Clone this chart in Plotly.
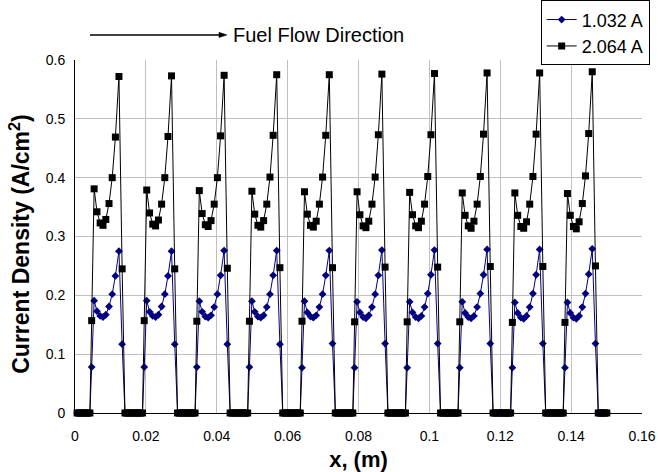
import plotly.graph_objects as go

# Cell (channel) start positions along x, m
cell_start = [0.0, 0.01484, 0.02968, 0.04452, 0.05936, 0.07420, 0.08904, 0.10388, 0.11872, 0.13356]
# Positions inside one cell, m
local_zero_before = [0.0006, 0.0012, 0.0018, 0.0024, 0.0030, 0.0036, 0.0042]
local_active = [0.0047, 0.0054, 0.0062, 0.0071, 0.0079, 0.0087, 0.0096, 0.0105, 0.0114, 0.0124, 0.0133]
local_zero_after = [0.0141, 0.0147]
local_zero_after_last = [0.0141, 0.0147, 0.0153, 0.0159, 0.0165]

# Current density in each cell, A/cm2 (2.064 A)
black = [
    [0.157, 0.381, 0.342, 0.323, 0.319, 0.329, 0.356, 0.400, 0.469, 0.572, 0.245],
    [0.157, 0.379, 0.340, 0.321, 0.318, 0.328, 0.355, 0.400, 0.470, 0.573, 0.245],
    [0.156, 0.378, 0.339, 0.320, 0.317, 0.327, 0.355, 0.400, 0.471, 0.574, 0.246],
    [0.156, 0.377, 0.338, 0.319, 0.316, 0.327, 0.355, 0.401, 0.472, 0.575, 0.247],
    [0.156, 0.376, 0.338, 0.319, 0.316, 0.326, 0.355, 0.401, 0.472, 0.575, 0.247],
    [0.155, 0.376, 0.337, 0.318, 0.315, 0.326, 0.355, 0.401, 0.473, 0.576, 0.248],
    [0.155, 0.375, 0.337, 0.318, 0.315, 0.326, 0.355, 0.402, 0.473, 0.577, 0.248],
    [0.155, 0.374, 0.336, 0.318, 0.314, 0.326, 0.355, 0.402, 0.474, 0.578, 0.249],
    [0.154, 0.374, 0.336, 0.317, 0.314, 0.325, 0.355, 0.402, 0.474, 0.578, 0.249],
    [0.154, 0.373, 0.336, 0.317, 0.313, 0.325, 0.356, 0.403, 0.475, 0.580, 0.250],
]
# Current density in each cell, A/cm2 (1.032 A)
blue = [
    [0.078, 0.191, 0.173, 0.165, 0.163, 0.167, 0.181, 0.202, 0.233, 0.275, 0.117],
    [0.078, 0.191, 0.172, 0.165, 0.163, 0.167, 0.181, 0.202, 0.233, 0.275, 0.117],
    [0.078, 0.190, 0.172, 0.164, 0.162, 0.166, 0.180, 0.202, 0.234, 0.276, 0.117],
    [0.078, 0.190, 0.172, 0.164, 0.162, 0.166, 0.180, 0.202, 0.234, 0.276, 0.117],
    [0.077, 0.190, 0.171, 0.164, 0.162, 0.166, 0.180, 0.202, 0.234, 0.276, 0.118],
    [0.077, 0.189, 0.171, 0.163, 0.161, 0.166, 0.180, 0.202, 0.234, 0.277, 0.118],
    [0.077, 0.189, 0.171, 0.163, 0.161, 0.165, 0.180, 0.203, 0.235, 0.277, 0.118],
    [0.077, 0.189, 0.170, 0.163, 0.161, 0.165, 0.180, 0.203, 0.235, 0.278, 0.118],
    [0.077, 0.188, 0.170, 0.162, 0.160, 0.165, 0.180, 0.203, 0.235, 0.278, 0.118],
    [0.077, 0.188, 0.170, 0.162, 0.160, 0.165, 0.180, 0.203, 0.236, 0.279, 0.118],
]

x_ticks = [0, 0.02, 0.04, 0.06, 0.08, 0.1, 0.12, 0.14, 0.16]
x_tick_labels = ["0", "0.02", "0.04", "0.06", "0.08", "0.1", "0.12", "0.14", "0.16"]
y_ticks = [0, 0.1, 0.2, 0.3, 0.4, 0.5, 0.6]
y_tick_labels = ["0", "0.1", "0.2", "0.3", "0.4", "0.5", "0.6"]


def build(series):
    xs, ys = [], []
    n = len(cell_start)
    for k in range(n):
        s = cell_start[k]
        for lx in local_zero_before:
            xs.append(s + lx); ys.append(0.0)
        for lx, v in zip(local_active, series[k]):
            xs.append(s + lx); ys.append(v)
        tail = local_zero_after_last if k == n - 1 else local_zero_after
        for lx in tail:
            xs.append(s + lx); ys.append(0.0)
    return xs, ys


bx, by = build(blue)
kx, ky = build(black)

FONT = "Liberation Sans, Arial, sans-serif"

fig = go.Figure()
fig.add_trace(go.Scatter(
    x=bx, y=by, mode="lines+markers", name="1.032 A",
    line=dict(color="#000080", width=1),
    marker=dict(symbol="diamond", size=6, color="#000080"),
    cliponaxis=False,
))
fig.add_trace(go.Scatter(
    x=kx, y=ky, mode="lines+markers", name="2.064 A",
    line=dict(color="#000000", width=1),
    marker=dict(symbol="square", size=7, color="#000000"),
    cliponaxis=False,
))

fig.update_layout(
    width=658, height=472,
    margin=dict(l=75, r=16, t=60, b=59, autoexpand=False),
    paper_bgcolor="white", plot_bgcolor="white",
    font=dict(family=FONT, size=14, color="black"),
    showlegend=True,
    legend=dict(
        x=1.0135, y=1.169, xanchor="right", yanchor="top",
        bordercolor="black", borderwidth=1, bgcolor="white",
        font=dict(family=FONT, size=18, color="black"),
        itemwidth=30, tracegroupgap=0,
    ),
    xaxis=dict(
        range=[0, 0.16], tickvals=x_ticks, ticktext=x_tick_labels,
        showgrid=True, gridcolor="#c0c0c0", gridwidth=1,
        showline=True, linecolor="black", linewidth=1,
        ticks="", zeroline=False, ticklabelstandoff=10, automargin=False,
        title=dict(text="<b>x, (m)</b>", font=dict(family=FONT, size=22), standoff=15),
        tickfont=dict(family=FONT, size=14),
    ),
    yaxis=dict(
        range=[0, 0.6], tickvals=y_ticks, ticktext=y_tick_labels,
        showgrid=True, gridcolor="#c0c0c0", gridwidth=1,
        showline=True, linecolor="black", linewidth=1,
        ticks="", zeroline=False, ticklabelstandoff=6, automargin=False,
        tickfont=dict(family=FONT, size=14),
    ),
)

# Y-axis title placed as rotated text
fig.add_annotation(
    x=-0.0985, y=0.477, xref="paper", yref="paper",
    xanchor="center", yanchor="middle", textangle=-90, showarrow=False,
    text="<b>Current Density (A/cm<sup>2</sup>)</b>",
    font=dict(family=FONT, size=23, color="black"),
)

# Flow direction arrow (line + filled head) in paper coordinates
fig.add_shape(type="line", xref="paper", yref="paper",
              x0=0.0265, y0=1.071, x1=0.259, y1=1.071,
              line=dict(color="black", width=1.5))
fig.add_shape(type="path", xref="paper", yref="paper",
              path="M 0.254 1.0785 L 0.268 1.071 L 0.254 1.0635 Z",
              fillcolor="black", line=dict(color="black", width=0.5))
fig.add_annotation(
    x=0.276, y=1.071, xref="paper", yref="paper", xanchor="left", yanchor="middle",
    showarrow=False, text="Fuel Flow Direction",
    font=dict(family=FONT, size=20, color="black"),
)

fig.write_html("out.html")
